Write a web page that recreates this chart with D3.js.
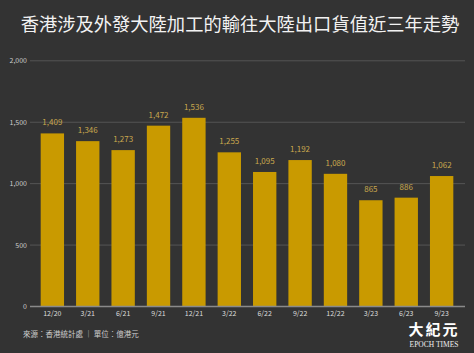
<!DOCTYPE html>
<html><head><meta charset="utf-8">
<script src="https://cdn.jsdelivr.net/npm/d3@7"></script>
<style>
html,body{margin:0;padding:0;background:#333333;}
svg{display:block;}
</style></head>
<body>
<svg id="c" width="474" height="353"></svg>
<script>
const categories = ["12/20","3/21","6/21","9/21","12/21","3/22","6/22","9/22","12/22","3/23","6/23","9/23"];
const values = [1409,1346,1273,1472,1536,1255,1095,1192,1080,865,886,1062];
const yTicks = [0,500,1000,1500,2000];
const title = "香港涉及外發大陸加工的輸往大陸出口貨值近三年走勢";
const source = "來源：香港統計處 ｜ 單位：億港元";

const svg = d3.select("#c");
const font = "'Noto Sans CJK TC','Noto Sans CJK SC',sans-serif";
svg.append("rect").attr("width",474).attr("height",353).attr("fill","#333333");

const x = d3.scaleBand().domain(categories).range([29,465]).paddingInner(0.34).paddingOuter(0.33);
const y = d3.scaleLinear().domain([0,2000]).range([306.5,60.8]);

// grid
const g = svg.append("g");
g.selectAll("line.grid").data(yTicks.filter(d=>d>0)).join("line")
  .attr("x1",30).attr("x2",465).attr("y1",d=>y(d)).attr("y2",d=>y(d))
  .attr("stroke","#555555").attr("stroke-width",1);
// y labels
g.selectAll("text.yl").data(yTicks).join("text")
  .attr("x",27).attr("y",d=>y(d)).attr("dy","0.35em").attr("text-anchor","end")
  .attr("font-family",font).attr("font-size",7).attr("fill","#cccccc")
  .text(d=>d3.format(",")(d));

// bars
svg.append("g").selectAll("rect").data(values).join("rect")
  .attr("x",(d,i)=>x(categories[i])).attr("width",x.bandwidth())
  .attr("y",d=>y(d)).attr("height",d=>y(0)-y(d))
  .attr("fill","#C99A00");

// baseline
svg.append("line").attr("x1",30).attr("x2",465).attr("y1",y(0)).attr("y2",y(0))
  .attr("stroke","#8a8a8a").attr("stroke-width",1.5);

// value labels
svg.append("g").selectAll("text").data(values).join("text")
  .attr("x",(d,i)=>x(categories[i])+x.bandwidth()/2).attr("y",d=>y(d)-8)
  .attr("text-anchor","middle").attr("font-family",font).attr("font-size",8)
  .attr("fill","#c9a84e").text(d=>d3.format(",")(d));

// x labels
svg.append("g").selectAll("text").data(categories).join("text")
  .attr("x",d=>x(d)+x.bandwidth()/2).attr("y",316)
  .attr("text-anchor","middle").attr("font-family",font).attr("font-size",7)
  .attr("fill","#dddddd").text(d=>d);

// title
svg.append("text").attr("x",240).attr("y",31).attr("text-anchor","middle")
  .attr("font-family",font).attr("font-size",18.3).attr("fill","#f2f2f2").text(title);

// source
svg.append("text").attr("x",23).attr("y",337).attr("font-family",font).attr("font-size",7.5)
  .attr("fill","#cccccc").text(source);

// logo
svg.append("text").attr("x",434).attr("y",335).attr("text-anchor","middle")
  .attr("font-family",font).attr("font-size",15).attr("font-weight","bold").attr("letter-spacing",2)
  .attr("fill","#ffffff").text("大紀元");
svg.append("text").attr("x",434).attr("y",347).attr("text-anchor","middle")
  .attr("font-family","'Liberation Serif',serif").attr("font-size",7.5)
  .attr("fill","#eeeeee").text("EPOCH TIMES");
</script>
</body></html>
